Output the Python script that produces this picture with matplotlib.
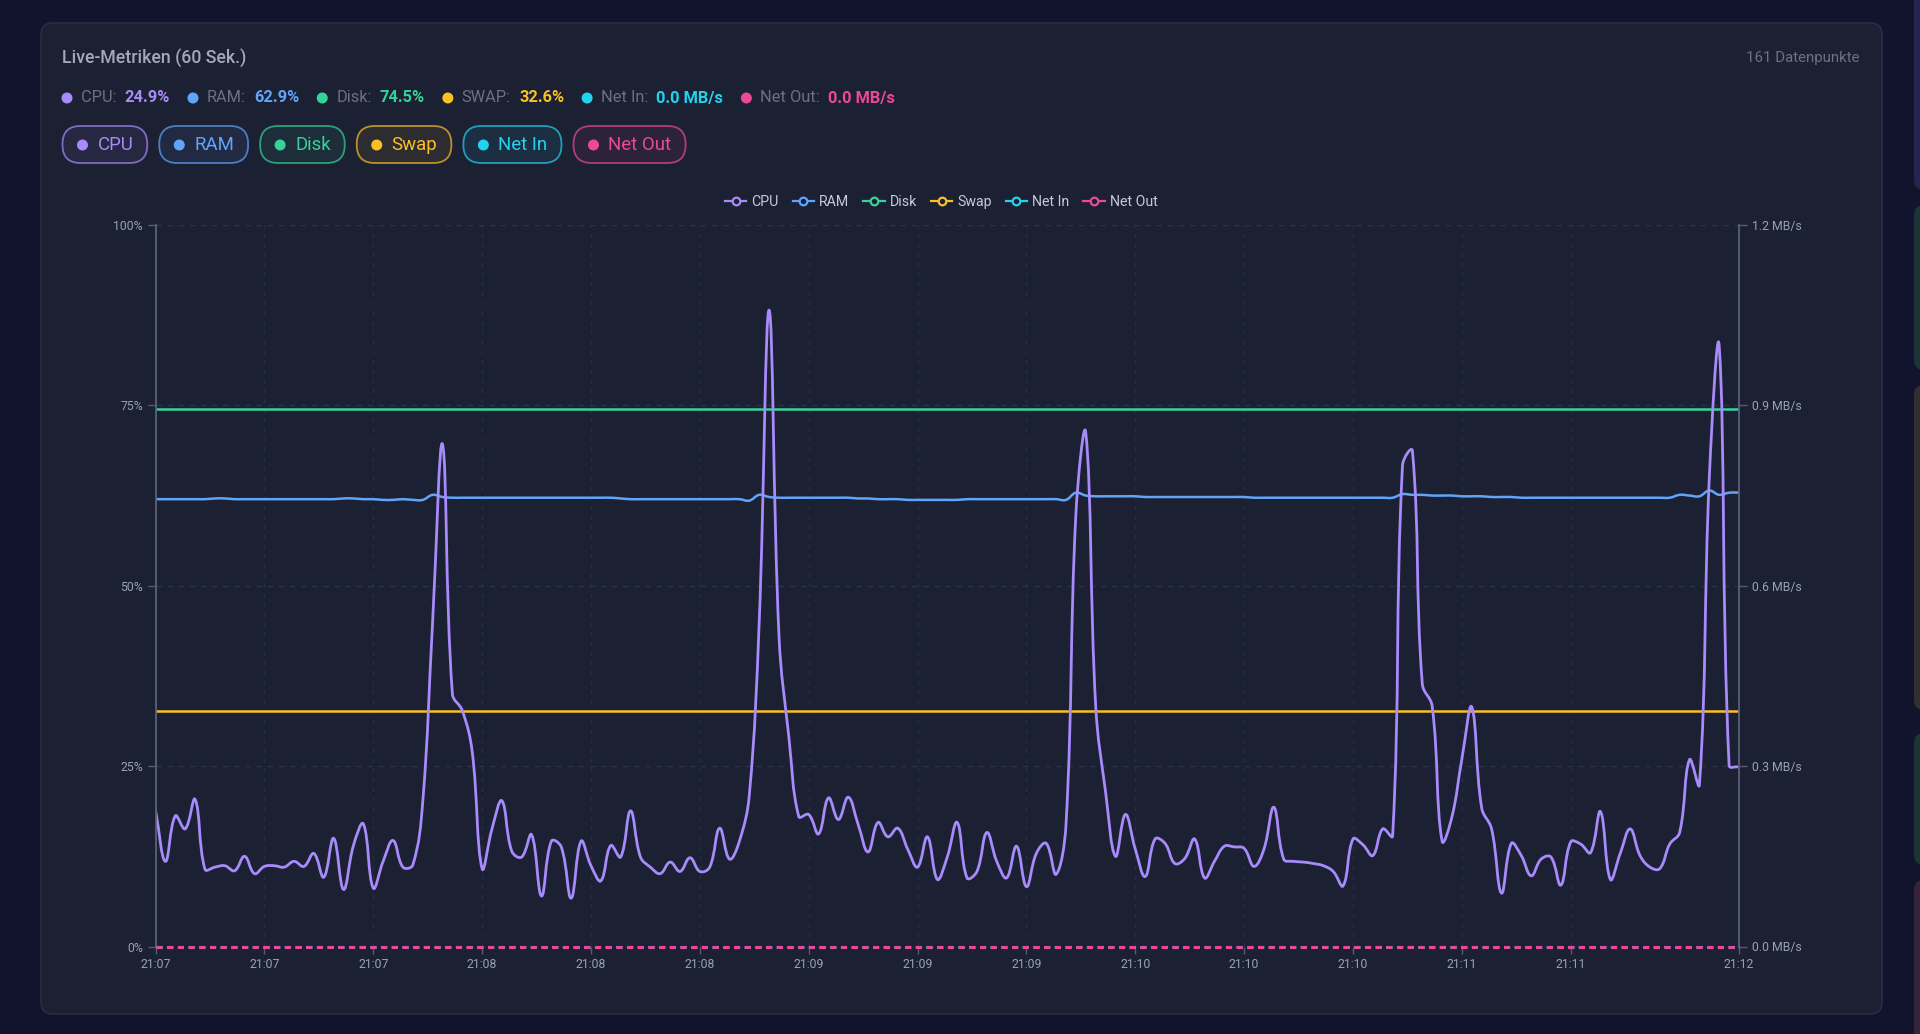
"""Live-Metriken dashboard card: CPU/RAM/Disk/Swap + Netz (60 Sek.)."""
import matplotlib
matplotlib.use("Agg")
import matplotlib.pyplot as plt
import numpy as np
from matplotlib.path import Path
from matplotlib.patches import PathPatch, FancyBboxPatch, Circle
from matplotlib.lines import Line2D

plt.rcParams["font.family"] = ["Roboto", "DejaVu Sans"]

# ---- data ----
time_labels = ["21:07", "21:07", "21:07", "21:08", "21:08", "21:08", "21:09",
               "21:09", "21:09", "21:10", "21:10", "21:10", "21:11", "21:11", "21:12"]

cpu = [
    18.9, 11.8, 18.1, 16.3, 20.4, 10.7, 11.0, 11.2, 10.5, 12.5, 10.1, 11.1, 11.2, 11.0,
    11.8, 11.1, 12.9, 9.6, 15.0, 7.9, 14.0, 17.0, 8.1, 11.8, 14.7, 11.0, 11.3,
    20.0, 45.0, 69.6, 35.0, 32.7, 27.0, 10.8, 16.3, 20.2, 13.2, 12.4, 15.5, 7.0, 14.6,
    13.8, 6.7, 14.6, 11.2, 9.1, 14.0, 12.4, 18.8, 12.4, 11.0, 10.1, 11.7, 10.4,
    12.3, 10.4, 11.0, 16.4, 12.1, 14.6, 21.0, 45.0, 88.2, 43.0, 29.0, 18.0, 18.3,
    15.6, 20.6, 17.6, 20.7, 16.9, 13.1, 17.2, 15.2, 16.4, 13.5, 11.0, 15.2, 9.3,
    12.4, 17.2, 9.5, 10.4, 15.8, 11.8, 9.5, 13.9, 8.3, 12.9, 14.3, 10.0, 16.9,
    60.0, 71.2, 33.3, 21.4, 12.5, 18.3, 13.5, 9.7, 14.9, 14.3, 11.5, 12.2, 14.9,
    9.5, 11.8, 13.9, 13.8, 13.6, 11.1, 13.5, 19.3, 12.1, 11.8, 11.7, 11.5, 11.2,
    10.4, 8.4, 14.9, 14.1, 12.6, 16.3, 15.3, 66.7, 68.7, 36.4, 33.3, 14.6, 18.0,
    26.0, 33.2, 19.2, 16.3, 7.4, 14.3, 12.6, 9.8, 12.1, 12.4, 8.5, 14.5, 14.2,
    13.0, 18.7, 9.3, 12.9, 16.3, 12.6, 11.0, 10.8, 14.2, 15.8, 25.9, 22.4, 65.0,
    83.2, 25.1, 24.9,
]

ram = [
    # 0-27
    62.0, 62.0, 62.0, 62.0, 62.0, 62.0, 62.1, 62.1, 62.0, 62.0, 62.0, 62.0, 62.0, 62.0,
    62.0, 62.0, 62.0, 62.0, 62.0, 62.1, 62.1, 62.0, 62.0, 61.9, 61.9, 62.0, 61.9, 61.9,
    # 28-59
    62.6, 62.3, 62.2, 62.2, 62.2, 62.2, 62.2, 62.2, 62.2, 62.2, 62.2, 62.2, 62.2, 62.2,
    62.2, 62.2, 62.2, 62.2, 62.2, 62.1, 62.0, 62.0, 62.0, 62.0, 62.0, 62.0, 62.0, 62.0,
    62.0, 62.0, 62.0, 62.0,
    # 60-92
    61.8, 62.6, 62.3, 62.2, 62.2, 62.2, 62.2, 62.2, 62.2, 62.2, 62.2, 62.1, 62.1, 62.0,
    62.0, 62.0, 61.9, 61.9, 61.9, 61.9, 61.9, 61.9, 62.0, 62.0, 62.0, 62.0, 62.0, 62.0,
    62.0, 62.0, 62.0, 62.0, 61.9,
    # 93-125
    62.9, 62.5, 62.4, 62.4, 62.4, 62.4, 62.4, 62.3, 62.3, 62.3, 62.3, 62.3, 62.3, 62.3,
    62.3, 62.3, 62.3, 62.3, 62.2, 62.2, 62.2, 62.2, 62.2, 62.2, 62.2, 62.2, 62.2, 62.2,
    62.2, 62.2, 62.2, 62.2, 62.2,
    # 126-160
    62.7, 62.6, 62.6, 62.5, 62.5, 62.5, 62.4, 62.4, 62.4, 62.3, 62.3, 62.3, 62.2, 62.2,
    62.2, 62.2, 62.2, 62.2, 62.2, 62.2, 62.2, 62.2, 62.2, 62.2, 62.2, 62.2, 62.2, 62.2,
    62.6, 62.5, 62.4, 63.2, 62.6, 62.9, 62.9,
]

n_pts = len(cpu)
disk = [74.5] * n_pts
swap = [32.6] * n_pts
net_in = [0.0] * n_pts
net_out = [0.0] * n_pts

names = ["CPU", "RAM", "Disk", "Swap", "Net In", "Net Out"]
colors = ["#a78bfa", "#60a5fa", "#34d399", "#fbbf24", "#22d3ee", "#ec4899"]
stat_labels = ["CPU:", "RAM:", "Disk:", "SWAP:", "Net In:", "Net Out:"]
stat_values = ["24.9%", "62.9%", "74.5%", "32.6%", "0.0 MB/s", "0.0 MB/s"]

PAGE_BG = "#12142e"
CARD_BG = "#1c2033"
GRID = "#2c3249"
AXIS = "#565d73"
TICK_TXT = "#9aa1b3"

W, H = 1920, 1034


def smooth_path(ax, x, y, tension=0.4):
    # chart.js style spline (control points computed in screen space)
    pts = ax.transData.transform(np.column_stack([x, y]))
    n = len(pts)
    cp_in = pts.copy()
    cp_out = pts.copy()
    for i in range(n):
        prev = pts[max(i - 1, 0)]
        cur = pts[i]
        nxt = pts[min(i + 1, n - 1)]
        d01 = np.hypot(*(cur - prev))
        d12 = np.hypot(*(nxt - cur))
        tot = d01 + d12
        s01 = d01 / tot if tot else 0
        s12 = d12 / tot if tot else 0
        cp_in[i] = cur - tension * s01 * (nxt - prev)
        cp_out[i] = cur + tension * s12 * (nxt - prev)
    verts = [pts[0]]
    codes = [Path.MOVETO]
    for i in range(n - 1):
        verts += [cp_out[i], cp_in[i + 1], pts[i + 1]]
        codes += [Path.CURVE4] * 3
    verts = ax.transData.inverted().transform(np.array(verts))
    return Path(verts, codes)


fig = plt.figure(figsize=(W / 100, H / 100), dpi=100, facecolor=PAGE_BG)

# background layer in pixel coordinates
bg = fig.add_axes([0, 0, 1, 1])
bg.set_xlim(0, W)
bg.set_ylim(H, 0)
bg.axis("off")
bg.add_patch(FancyBboxPatch((41, 23), 1841, 991, boxstyle="round,pad=0,rounding_size=12",
                            fc=CARD_BG, ec="#282d43", lw=1.2))
# neighbouring cards peeking in on the right edge
for (y0, y1, c) in [(-20, 190, "#25264f"), (205, 370, "#1d3338"), (385, 710, "#332f2f"),
                    (733, 865, "#1b3436"), (880, 1060, "#35243c")]:
    bg.add_patch(FancyBboxPatch((1914, y0), 40, y1 - y0, boxstyle="round,pad=0,rounding_size=10",
                                fc=c, ec="none"))

bg.text(62, 59, "Live-Metriken (60 Sek.)", fontsize=12.8, fontweight="medium",
        color="#a3a9ba", va="center", ha="left")
bg.text(1860, 58, "161 Datenpunkte", fontsize=10.8, color="#6b7181", va="center", ha="right")

renderer = fig.canvas.get_renderer()

# stats row
cursor = 62
ystat = 98
for lab, val, c in zip(stat_labels, stat_values, colors):
    bg.add_patch(Circle((cursor + 5, ystat), 5.5, fc=c, ec="none"))
    t1 = bg.text(cursor + 19, ystat, lab, fontsize=11.8, color="#6b7181", va="center", ha="left")
    w1 = t1.get_window_extent(renderer).width
    t2 = bg.text(cursor + 19 + w1 + 8, ystat, val, fontsize=11.8, fontweight="bold", color=c,
                 va="center", ha="left")
    w2 = t2.get_window_extent(renderer).width
    cursor = cursor + 19 + w1 + 8 + w2 + 18

# toggle pills
px = 62.5
for name, c in zip(names, colors):
    t = bg.text(px + 35, 145, name, fontsize=13.4, color=c, va="center", ha="left")
    tw = t.get_window_extent(renderer).width
    pw = 35 + tw + 14
    bg.add_patch(FancyBboxPatch((px, 126), pw, 37, boxstyle="round,pad=0,rounding_size=18",
                                fc=matplotlib.colors.to_rgba(c, 0.08),
                                ec=matplotlib.colors.to_rgba(c, 0.7), lw=1.3))
    bg.add_patch(Circle((px + 20, 145), 5.5, fc=c, ec="none"))
    px += pw + 12

# ---- chart ----
left, right = 155.5, 1739
top, bottom = 225, 946.5
ax = fig.add_axes([left / W, 1 - bottom / H, (right - left) / W, (bottom - top) / H])
ax.set_facecolor("none")
x = np.arange(n_pts)
ax.set_xlim(0, n_pts - 1)
ax.set_ylim(0, 100)

ax2 = ax.twinx()
ax2.set_ylim(0, 1.2)

tick_idx = list(range(0, 144, 11)) + [n_pts - 1]
ax.set_xticks(tick_idx)
ax.set_xticklabels(time_labels)
ax.set_yticks([0, 25, 50, 75, 100])
ax.set_yticklabels(["0%", "25%", "50%", "75%", "100%"])
ax2.set_yticks([0, 0.3, 0.6, 0.9, 1.2])
ax2.set_yticklabels(["0.0 MB/s", "0.3 MB/s", "0.6 MB/s", "0.9 MB/s", "1.2 MB/s"])

ax.grid(True, axis="y", color=GRID, ls=(0, (4, 4)), lw=1)
ax.grid(True, axis="x", color="#262c42", ls=(0, (3, 4)), lw=1)
for a in (ax, ax2):
    for s in ("top", "bottom"):
        a.spines[s].set_visible(False)
    a.spines["left"].set_color(AXIS)
    a.spines["right"].set_color(AXIS)
    a.spines["left"].set_linewidth(1.2)
    a.spines["right"].set_linewidth(1.2)
    a.tick_params(colors=AXIS, labelcolor=TICK_TXT, labelsize=8.8, length=6, width=1)
ax.tick_params(axis="x", length=5, pad=3)
ax.tick_params(axis="y", pad=3)
ax2.tick_params(axis="y", pad=3)

ax.plot(x, disk, color=colors[2], lw=1.8, zorder=3)
ax.plot(x, swap, color=colors[3], lw=1.8, zorder=3)
ax.add_patch(PathPatch(smooth_path(ax, x, ram), fc="none", ec=colors[1], lw=1.8, zorder=4))
ax.add_patch(PathPatch(smooth_path(ax, x, cpu), fc="none", ec=colors[0], lw=2.0, zorder=5,
                       capstyle="round", joinstyle="round"))
ax2.plot(x, net_in, color=colors[4], lw=2.2, ls=(0, (2, 1.5)), clip_on=False, zorder=5)
ax2.plot(x, net_out, color=colors[5], lw=2.2, ls=(0, (2, 1.5)), clip_on=False, zorder=6)

handles = [Line2D([], [], color=c, lw=1.6, marker="o", markersize=5.5,
                  markerfacecolor=CARD_BG, markeredgecolor=c, markeredgewidth=1.6)
           for c in colors]
leg = ax.legend(handles, names, loc="center", bbox_to_anchor=(0.5 - 6 / 1583.5, 1 + 23 / 721.5),
                ncol=6, frameon=False, fontsize=10.2, handlelength=1.5, handletextpad=0.35,
                columnspacing=1.0, labelcolor="#c5cad6")

fig.savefig("out.png", dpi=100, facecolor=PAGE_BG)
